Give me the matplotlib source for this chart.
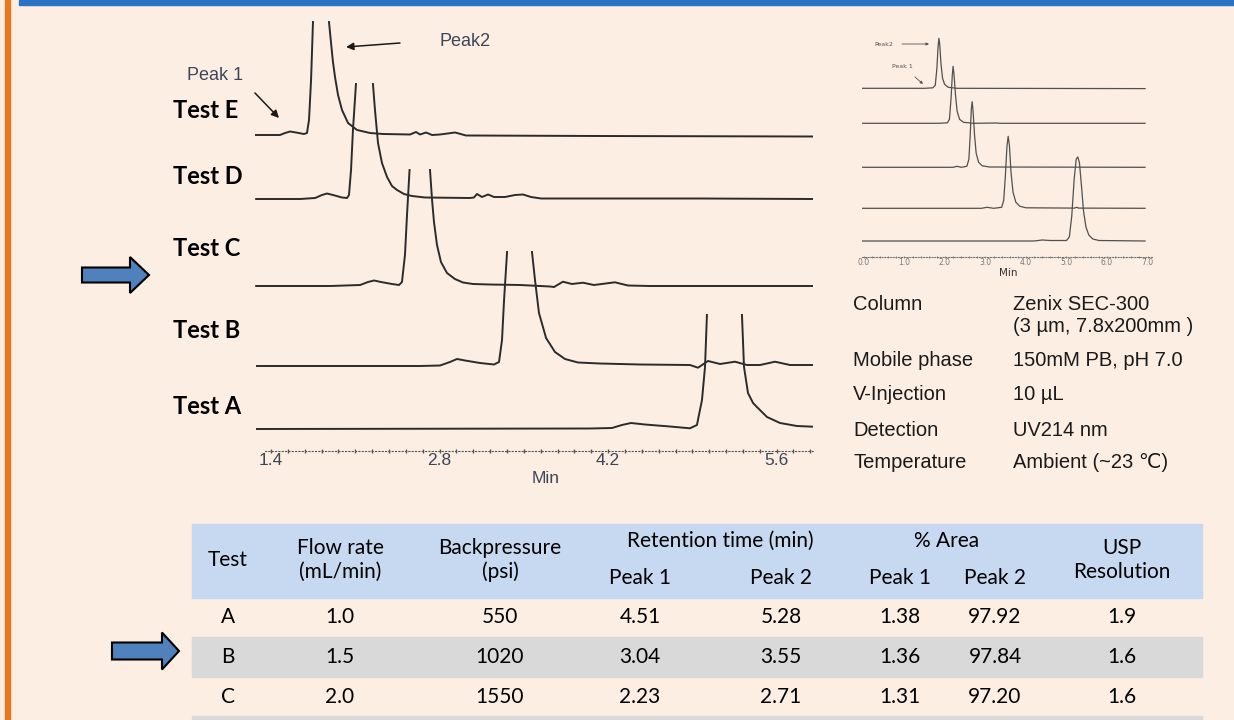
import numpy as np
import matplotlib.pyplot as plt
from matplotlib.patches import Rectangle, FancyArrow
from matplotlib.ticker import MultipleLocator

nan = np.nan

# Main chromatograms, flow rate tests A-E.
# time in min, signal above each trace's own baseline (arbitrary units).
# nan = the clipped top of the big peak.
a_time = [1.284, 4.049, 4.232, 4.315, 4.390, 4.506, 4.714, 4.880, 4.938, 4.980, 5.005, 5.021, nan,
          5.312, 5.329, 5.362, 5.404, 5.436, 5.520, 5.628, 5.769, 5.902]
a_signal = [0, 0.5, 1, 4, 6, 4.5, 2.5, 0.7, 4, 29, 62, 114, nan,
            114, 62, 36, 26, 22, 12, 6, 3, 2.3]

b_time = [1.284, 2.638, 2.804, 2.887, 2.945, 3.012, 3.136, 3.253, 3.294, 3.319, 3.336, 3.361, nan,
          3.568, 3.593, 3.626, 3.685, 3.759, 3.842, 3.950, 4.133, 4.465, 4.880, 4.947, 5.030,
          5.130, 5.254, 5.354, 5.462, 5.586, 5.711, 5.902]
b_signal = [0, 0, 0.5, 4, 7, 5.5, 3, 1.5, 4, 26, 66, 114, nan,
            114, 86, 53, 28, 14, 7, 3.5, 2.5, 1.5, 1, -1.7, 5,
            2, 4.3, 1, 1, 4.3, 1, 1]

c_time = [1.277, 1.892, 2.141, 2.206, 2.256, 2.314, 2.405, 2.464, 2.488, 2.513, 2.530, 2.551, nan,
          2.721, 2.738, 2.754, 2.779, 2.812, 2.862, 2.928, 2.995, 3.078, 3.219, 3.468, 3.718,
          3.751, 3.825, 3.900, 3.991, 4.083, 4.257, 4.365, 4.548, 5.902]
c_signal = [0, 0, 1, 4, 5.5, 4, 2, 1, 4, 31, 71, 116, nan,
            116, 86, 64, 41, 24, 13, 7, 3.5, 2, 1.5, 1, -0.5,
            -1, 4.3, 2, 3.3, 1, 3.7, 0.5, 0, 0]

d_time = [1.277, 1.642, 1.767, 1.824, 1.865, 1.915, 1.990, 2.032, 2.048, 2.065, 2.081, 2.106, nan,
          2.247, 2.264, 2.289, 2.322, 2.364, 2.405, 2.447, 2.505, 2.571, 2.679, 3.053, 3.086,
          3.111, 3.153, 3.203, 3.253, 3.344, 3.427, 3.493, 3.560, 3.643, 4.963, 5.902]
d_signal = [0, 0, 1, 4, 5.5, 4, 1.5, 1, 4, 29, 69, 115, nan,
            115, 89, 56, 36, 22, 13, 9, 5, 3, 1.5, 1, 1.5,
            5, 2, 4.5, 2, 2, 4, 4.5, 2, 0.5, 0.5, 0]

e_time = [1.267, 1.475, 1.517, 1.558, 1.608, 1.674, 1.699, 1.716, 1.733, 1.749, nan,
          1.882, 1.899, 1.915, 1.932, 1.957, 1.990, 2.040, 2.115, 2.223, 2.331, 2.555,
          2.605, 2.638, 2.688, 2.738, 2.804, 2.929, 3.020, 4.133, 5.902]
e_signal = [0, 0, 2, 3.5, 2.5, 1, 2, 15, 55, 113, nan,
            113, 92, 73, 58, 40, 25, 12, 5, 2, 1, 0.5,
            3, 0.5, 2.5, 0, 0.5, 2.5, -0.5, -1, -1.5]

# Small overview chromatograms (top right), same tests, unclipped
ia_time = [-0.04, 4.2, 4.4, 4.6, 5.0, 5.07, 5.13, 5.19, 5.24, 5.28, 5.32, 5.37, 5.42, 5.48, 5.55, 5.65, 5.8, 6.94]
ia_signal = [0, 0, 1, 0.5, 0.5, 4, 25, 62, 82, 84, 78, 55, 30, 14, 6, 2, 0.5, 0]
ib_time = [-0.04, 2.9, 3.04, 3.2, 3.40, 3.45, 3.49, 3.53, 3.56, 3.59, 3.63, 3.68, 3.75, 3.85, 4.0, 5.2, 5.25, 5.3, 6.94]
ib_signal = [0, 0, 1, 0, 1, 8, 32, 62, 72, 63, 36, 16, 6, 2, 0.5, 0.2, 1, 0.2, 0]
ic_time = [-0.04, 2.2, 2.3, 2.4, 2.54, 2.59, 2.62, 2.65, 2.67, 2.69, 2.73, 2.77, 2.83, 2.92, 3.1, 6.94]
ic_signal = [0, 0, 1, 0, 1, 8, 30, 58, 65.6, 58, 32, 14, 5, 1.5, 0.3, 0]
id_time = [-0.04, 1.85, 2.06, 2.11, 2.15, 2.18, 2.20, 2.22, 2.26, 2.30, 2.36, 2.46, 2.7, 3.3, 3.35, 6.94]
id_signal = [0, 0, 0.5, 4, 25, 48, 57, 50, 28, 12, 4, 1, 0, 0.3, 0, 0]
ie_time = [-0.04, 1.5, 1.70, 1.76, 1.80, 1.83, 1.85, 1.87, 1.90, 1.94, 1.99, 2.08, 2.3, 6.94]
ie_signal = [0, 0, 0.5, 3, 20, 42, 50, 44, 25, 10, 4, 1, 0, -0.3]

# conditions
info_labels = ['Column', 'Mobile phase', 'V-Injection', 'Detection', 'Temperature']
info_values = ['Zenix SEC-300\n(3 \u00b5m, 7.8x200mm )', '150mM PB, pH 7.0', '10 \u00b5L',
               'UV214 nm', 'Ambient (~23 \u2103)']

# results table
test_ids = ['A', 'B', 'C']
flow_rate = [1.0, 1.5, 2.0]
backpressure = [550, 1020, 1550]
rt_peak1 = [4.51, 3.04, 2.23]
rt_peak2 = [5.28, 3.55, 2.71]
area_peak1 = [1.38, 1.36, 1.31]
area_peak2 = [97.92, 97.84, 97.20]
usp_resolution = [1.9, 1.6, 1.6]

BG = '#fdeee3'
W, H = 1234, 720
fig = plt.figure(figsize=(12.34, 7.2), dpi=100)
fig.patch.set_facecolor(BG)


def box(x0, y0, x1, y1):
    return [x0 / W, 1 - y1 / H, (x1 - x0) / W, (y1 - y0) / H]


# overlay in pixel coordinates for slide decoration, labels and table
ov = fig.add_axes([0, 0, 1, 1])
ov.set_xlim(0, W)
ov.set_ylim(H, 0)
ov.axis('off')
ov.add_patch(Rectangle((19, 0), W - 19, 4.5, color='#2a72c4'))
ov.add_patch(Rectangle((5, 0), 4.5, H, color='#e8781e'))

tcol = '#3d4558'
for name, y in zip(['E', 'D', 'C', 'B', 'A'], [111, 176, 248, 331, 406]):
    ov.text(173, y, 'Test ' + name, fontsize=17, fontweight='bold', family='Lato', va='center')
ov.text(215, 76, 'Peak 1', fontsize=13, color=tcol, family='Liberation Sans', ha='center', va='center')
ov.text(465, 42, 'Peak2', fontsize=13, color=tcol, family='Liberation Sans', ha='center', va='center')
arr = dict(arrowstyle='-|>', color='#1a1a1a', lw=1.1, mutation_scale=11, shrinkA=0, shrinkB=0)
ov.annotate('', xy=(279, 118), xytext=(255, 93), arrowprops=arr)
ov.annotate('', xy=(346, 47), xytext=(400, 43), arrowprops=arr)

arr_s = dict(arrowstyle='-|>', color='#555555', lw=0.6, mutation_scale=4, shrinkA=0, shrinkB=0)
ov.text(884, 44, 'Peak2', fontsize=4.5, color='#555555', ha='center', va='center')
ov.annotate('', xy=(929, 44), xytext=(902, 44), arrowprops=arr_s)
ov.text(902, 67, 'Peak 1', fontsize=4.5, color='#555555', ha='center', va='center')
ov.annotate('', xy=(923, 84), xytext=(915, 77), arrowprops=arr_s)

# blue block arrows
for x0, y0, w, hw, hl in [(82, 275, 15, 36, 19), (112, 651, 17, 37, 17)]:
    ov.add_patch(FancyArrow(x0, y0, 67, 0, width=w, head_width=hw, head_length=hl,
                            length_includes_head=True, fc='#4f81bd', ec='black', lw=1.5))

# conditions block
info_font = ['Liberation Sans', 'DejaVu Sans']
for lab, val, y in zip(info_labels, info_values, [305, 360, 395, 430, 463]):
    ov.text(853, y, lab, fontsize=14.5, family=info_font, va='center', color='#1a1a1a')
    for i, line in enumerate(val.split('\n')):
        ov.text(1013, y + 22 * i, line, fontsize=14.5, family=info_font, va='center', color='#1a1a1a')

# table
ov.add_patch(Rectangle((192, 524), 1010, 74, color='#c6d9f1'))
ov.add_patch(Rectangle((192, 637), 1010, 40, color='#d9d9d9'))
ov.add_patch(Rectangle((192, 716), 1010, 10, color='#d9d9d9'))
tf = dict(fontsize=15, family='Lato', ha='center', va='center', color='black')
col_x = [228, 340, 500, 640, 781, 900, 995, 1122]
ov.text(col_x[0], 560, 'Test', **tf)
ov.text(col_x[1], 548, 'Flow rate', **tf)
ov.text(col_x[1], 572, '(mL/min)', **tf)
ov.text(col_x[2], 548, 'Backpressure', **tf)
ov.text(col_x[2], 572, '(psi)', **tf)
ov.text(720, 541, 'Retention time (min)', **tf)
ov.text(947, 541, '% Area', **tf)
for cx in col_x[3:7]:
    ov.text(cx, 578, 'Peak 1' if cx in (col_x[3], col_x[5]) else 'Peak 2', **tf)
ov.text(col_x[7], 548, 'USP', **tf)
ov.text(col_x[7], 572, 'Resolution', **tf)
for i, y in enumerate([617, 657, 697]):
    row = [test_ids[i], f'{flow_rate[i]:.1f}', f'{backpressure[i]}', f'{rt_peak1[i]:.2f}',
           f'{rt_peak2[i]:.2f}', f'{area_peak1[i]:.2f}', f'{area_peak2[i]:.2f}',
           f'{usp_resolution[i]:.1f}']
    for cx, txt in zip(col_x, row):
        ov.text(cx, y, txt, **tf)

# main chromatograms
ax = fig.add_axes(box(255, 15, 813, 451))
ax.patch.set_alpha(0)
traces = [(a_time, a_signal), (b_time, b_signal), (c_time, c_signal), (d_time, d_signal), (e_time, e_signal)]
for (t, s), off in zip(traces, [22, 85, 165, 252, 316]):
    ax.plot(t, np.array(s) + off, color='#2b2b2b', lw=1.4)
ax.set_xlim(1.2674, 5.902)
ax.set_ylim(0, 436)
for side in ['top', 'left', 'right']:
    ax.spines[side].set_visible(False)
ax.spines['bottom'].set_linestyle((0, (1, 2)))
ax.spines['bottom'].set_color('#555555')
ax.spines['bottom'].set_bounds(1.35, 5.902)
ax.set_xticks([1.4, 2.8, 4.2, 5.6])
ax.set_xticklabels(['1.4', '2.8', '4.2', '5.6'], family='Liberation Sans')
ax.xaxis.set_minor_locator(MultipleLocator(0.14))
ax.tick_params(axis='x', which='both', direction='inout', length=3, width=1, colors='#555555',
               labelsize=12.5, pad=0, labelcolor=tcol)
ax.set_yticks([])
ax.set_xlabel('Min', fontsize=12.5, color=tcol, family='Liberation Sans')
ax.xaxis.set_label_coords(0.52, -0.045)

# overview inset
ax2 = fig.add_axes(box(862, 30, 1152, 257))
ax2.patch.set_alpha(0)
itraces = [(ia_time, ia_signal), (ib_time, ib_signal), (ic_time, ic_signal), (id_time, id_signal), (ie_time, ie_signal)]
for (t, s), off in zip(itraces, [16, 48.7, 89.7, 133.7, 168.7]):
    ax2.plot(t, np.array(s) + off, color='#505050', lw=0.9)
ax2.set_xlim(-0.049, 7.111)
ax2.set_ylim(0, 227)
for side in ['top', 'left', 'right']:
    ax2.spines[side].set_visible(False)
ax2.spines['bottom'].set_linestyle((0, (1, 1.5)))
ax2.spines['bottom'].set_color('#777777')
ax2.spines['bottom'].set_linewidth(0.8)
ax2.set_xticks(range(8))
ax2.set_xticklabels([f'{v:.1f}' for v in range(8)])
ax2.xaxis.set_minor_locator(MultipleLocator(0.2))
ax2.tick_params(axis='x', which='both', direction='inout', length=2, width=0.6, colors='#777777',
                labelsize=5.5, pad=0)
ax2.set_yticks([])
ax2.set_xlabel('Min', fontsize=7.5, color='#333333')
ax2.xaxis.set_label_coords(0.503, -0.05)

fig.savefig('out.png', dpi=100, facecolor=BG)
